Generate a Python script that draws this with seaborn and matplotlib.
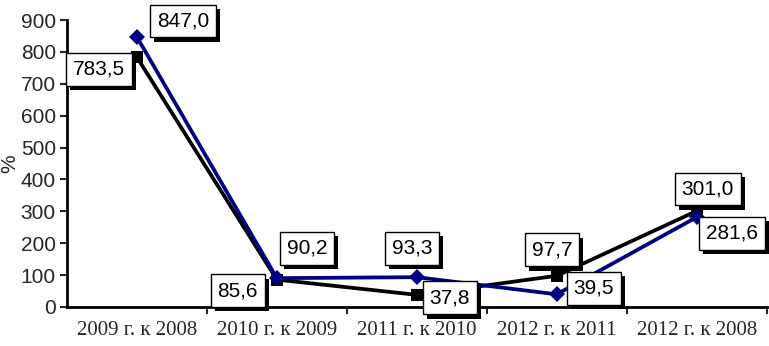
import matplotlib
matplotlib.use("Agg")
import matplotlib.pyplot as plt
import matplotlib.patheffects as pe
import seaborn as sns
import pandas as pd

# data
periods = ["2009 г. к 2008", "2010 г. к 2009", "2011 г. к 2010",
           "2012 г. к 2011", "2012 г. к 2008"]
series_black = [783.5, 85.6, 37.8, 97.7, 301.0]
series_blue = [847.0, 90.2, 93.3, 39.5, 281.6]
series_names = ["A", "B"]

# label offsets in pixels (dx, dy) from each point
offsets_black = [(-38, -12), (-39, -11), (33, -3), (-5, 26), (11, 22)]
offsets_blue = [(46, 16), (30, 30), (-5, 29), (37, 6), (35, -16)]

df = pd.DataFrame({
    "period": periods * 2,
    "value": series_black + series_blue,
    "series": [series_names[0]] * 5 + [series_names[1]] * 5,
})

sns.set_style("white")
plt.rcParams["font.family"] = ["Liberation Sans", "DejaVu Sans"]

fig, ax = plt.subplots(figsize=(7.69, 3.46), dpi=100)
fig.subplots_adjust(left=0.087, right=0.997, top=0.942, bottom=0.113)

sns.lineplot(data=df, x="period", y="value", hue="series", style="series",
             markers={"A": "s", "B": "D"}, dashes=False, sort=False,
             palette={"A": "black", "B": "#000080"}, linewidth=2.7,
             markersize=8, markeredgewidth=0, legend=False, ax=ax)


def label(x, y, txt, off):
    dx, dy = off
    t = ax.annotate(txt, (x, y), xytext=(dx, dy), textcoords="offset pixels",
                    ha="center", va="center", fontsize=15, color="black", zorder=6,
                    bbox=dict(boxstyle="square,pad=0.33", fc="white", ec="black", lw=1))
    t.get_bbox_patch().set_path_effects([
        pe.SimplePatchShadow(offset=(3.2, -3.2), shadow_rgbFace="black", alpha=1),
        pe.Normal()])


for i, v in enumerate(series_black):
    label(i, v, f"{v:.1f}".replace(".", ","), offsets_black[i])
for i, v in enumerate(series_blue):
    label(i, v, f"{v:.1f}".replace(".", ","), offsets_blue[i])

ax.set_xlim(-0.5, 4.5)
ax.set_ylim(0, 900)
ax.set_yticks(range(0, 901, 100))
ax.tick_params(axis="y", direction="out", length=5, width=1.5, left=True,
               labelsize=15, pad=3)

ax.set_xticks([0.5, 1.5, 2.5, 3.5, 4.5])
ax.set_xticklabels([])
ax.set_xticks(range(len(periods)), minor=True)
ax.set_xticklabels(periods, minor=True, family=["Liberation Serif"], fontsize=15)
ax.tick_params(axis="x", which="major", direction="out", length=5, width=1.5, bottom=True)
ax.tick_params(axis="x", which="minor", length=0, pad=10)

ax.set_xlabel("")
ax.set_ylabel("%", fontsize=15)
ax.yaxis.set_label_coords(-0.068, 0.5)
sns.despine(ax=ax)
for s in ["left", "bottom"]:
    ax.spines[s].set_linewidth(2)
    ax.spines[s].set_color("black")

fig.savefig("out.png", dpi=100)
